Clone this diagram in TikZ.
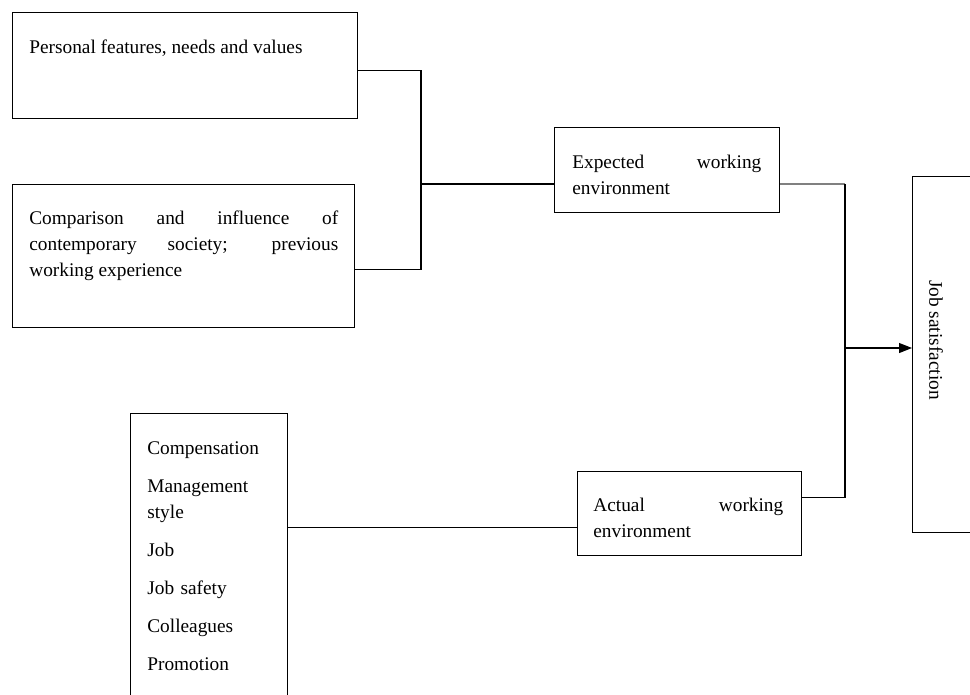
\documentclass[tikz,border=0pt]{standalone}
\usepackage{fontspec}
\setmainfont{Liberation Serif}
\usetikzlibrary{arrows.meta}
\hyphenpenalty=10000
\exhyphenpenalty=10000
\tikzset{
  plain box/.style args={#1 by #2}{
    draw,rectangle,line width=.6pt,anchor=north west,inner sep=0pt,
    minimum width=0.02cm*#1,minimum height=0.02cm*#2, % sizes in px
  },
  box text/.style={
    anchor=north west,inner sep=0pt,align=justify,text width=#1,
    font=\fontsize{11}{14.7}\selectfont,
  },
  link line/.style={line width=.6pt},
}

\begin{document}
\begin{tikzpicture}[x=0.02cm,y=-0.02cm]
		
		\useasboundingbox (0,0) rectangle (970,694);

		\node[plain box=345 by 106] (pers) at (12,12) {};
		\node[plain box=342 by 143] (socty) at (12,184) {};
		\node[plain box=225 by 85] (expct) at (554,127) {};
		\node[plain box=224 by 84] (actl) at (577,471) {};
		\node[plain box=157 by 320] (factr) at (130,413) {};
		\node[plain box=100 by 356] (jobsat) at (912,176) {};

		\node[box text=6.2cm] (perstxt) at (29,40) {Personal features, needs and values};
		\node[box text=6.18cm] (soctytxt) at (29,211)
		{Comparison and influence of contemporary society; previous\linebreak working experience};
		\node[box text=3.78cm] (expcttxt) at (572,155) {Expected working environment};
		\node[box text=3.8cm] (actltxt) at (593,498) {Actual working environment};
		\node[box text=2.6cm,align=left] (factrtxt) at (147,441)
		{Compensation\\[7pt] Management\\ style\\[7pt] Job\\[7pt] Job safety\\[7pt] Colleagues\\[7pt] Promotion};
		\node[rotate=-90,inner sep=0pt,font=\fontsize{11}{14.7}\selectfont] (jobsattxt) at (936,340) {Job satisfaction};

		\coordinate (jn1) at (421,184);
		\coordinate (jn2) at (845,348);

		\draw[link line] ([yshift=-0.1cm]pers.east) -| (jn1);
		\draw[link line] ([yshift=-0.27cm]socty.east) -| (jn1);
		\draw[link line] (jn1) -- (jn1 -| expct.west);
		
		\draw[link line,gray] (expct.east |- jn1) -- (jn1 -| jn2);
		\draw[link line] (jn1 -| jn2) |- ([yshift=0.32cm]actl.east);
		\draw[link line,-{Triangle[length=0.26cm,width=0.2cm]}] (jn2) -- (jn2 -| jobsat.west);
		
		\draw[link line] ([yshift=-0.28cm]actl.west) -- ([yshift=-0.28cm]actl.west -| factr.east);
		
\end{tikzpicture}
\end{document}
